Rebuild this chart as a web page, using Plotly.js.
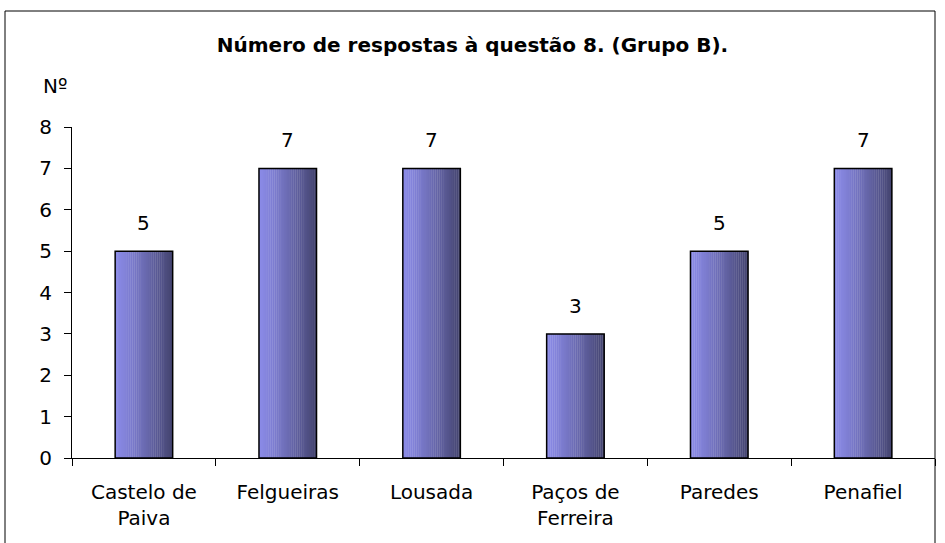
<!DOCTYPE html>
<html>
<head>
<meta charset="utf-8">
<script src="https://cdn.plot.ly/plotly-3.0.1.min.js"></script>
<style>
  html, body { margin: 0; padding: 0; background: #fff; }
  #chart { width: 945px; height: 543px; }
</style>
</head>
<body>
<div id="chart"></div>
<script>
// Número de respostas à questão 8, Grupo B
const concelhos = ['Castelo de<br>Paiva', 'Felgueiras', 'Lousada', 'Paços de<br>Ferreira', 'Paredes', 'Penafiel'];
const respostas = [5, 7, 7, 3, 5, 7];
const yTicks = [0, 1, 2, 3, 4, 5, 6, 7, 8];

const FONT = 'DejaVu Sans, Liberation Sans, Arial';

// bars drawn as thin strips to imitate the horizontal gradient fill
const barWidth = 0.4;
const strips = 30;
const light = [138, 138, 230];
const dark = [68, 68, 112];

const traces = [];
for (let i = 0; i < strips; i++) {
  const t = i / (strips - 1);
  const c = light.map((v, k) => Math.round(v + (dark[k] - v) * Math.pow(t, 1.2)));
  traces.push({
    type: 'bar',
    x: concelhos,
    y: respostas,
    width: barWidth / strips + 0.002,
    offset: -barWidth / 2 + i * barWidth / strips,
    marker: { color: `rgb(${c.join(',')})`, line: { width: 0 } },
    hoverinfo: 'skip',
    showlegend: false
  });
}

// outline
traces.push({
  type: 'bar',
  x: concelhos,
  y: respostas,
  width: barWidth,
  offset: -barWidth / 2,
  marker: { color: 'rgba(0,0,0,0)', line: { color: '#000', width: 1.5 } },
  showlegend: false
});

// value labels above the bars
const labels = concelhos.map((c, i) => ({
  x: c, y: respostas[i], xref: 'x', yref: 'y',
  text: String(respostas[i]),
  showarrow: false, yanchor: 'bottom', yshift: 14,
  font: { family: FONT, size: 20, color: '#000' }
}));

const layout = {
  width: 945,
  height: 543,
  barmode: 'overlay',
  paper_bgcolor: '#fff',
  plot_bgcolor: '#fff',
  margin: { l: 72, r: 10, t: 127, b: 85 },
  font: { family: FONT, size: 20, color: '#000' },
  title: {
    text: '<b>Número de respostas à questão 8. (Grupo B).</b>',
    font: { family: FONT, size: 20, color: '#000' },
    x: 0.5, xref: 'container',
    y: 1 - 45 / 543, yref: 'container', yanchor: 'middle'
  },
  xaxis: {
    type: 'category',
    showline: true, linecolor: '#000', linewidth: 1,
    ticks: 'outside', tickson: 'boundaries', ticklen: 7, tickcolor: '#000',
    showgrid: false, zeroline: false,
    ticklabelstandoff: 16
  },
  yaxis: {
    range: [0, 8],
    tickvals: yTicks,
    showline: true, linecolor: '#000', linewidth: 1,
    ticks: 'outside', ticklen: 7, tickcolor: '#000',
    showgrid: false, zeroline: false,
    ticklabelstandoff: 8
  },
  shapes: [{
    type: 'rect', xref: 'paper', yref: 'paper',
    x0: (5 - 72) / 863, x1: (935 - 72) / 863,
    y0: -0.4, y1: (458 - 11) / 331,
    line: { color: '#000', width: 1 }, fillcolor: 'rgba(0,0,0,0)', layer: 'below'
  }],
  annotations: labels.concat([{
    text: 'Nº', xref: 'paper', yref: 'paper',
    x: (55 - 72) / 863, y: (458 - 86) / 331,
    xanchor: 'center', yanchor: 'middle', showarrow: false,
    font: { family: FONT, size: 20, color: '#000' }
  }])
};

Plotly.newPlot('chart', traces, layout, { displayModeBar: false, staticPlot: true });
</script>
</body>
</html>
